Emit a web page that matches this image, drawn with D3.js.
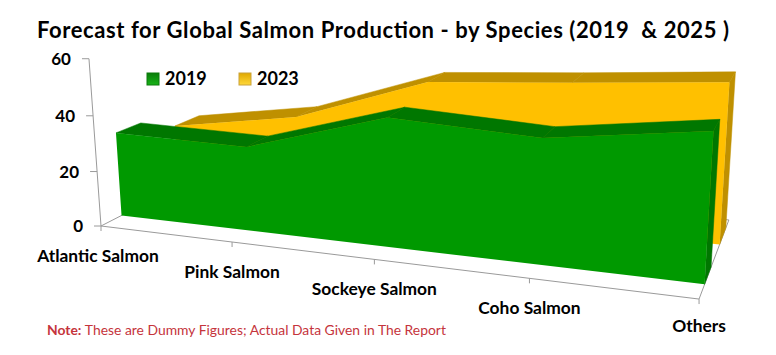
<!DOCTYPE html>
<html lang="en">
<head>
<meta charset="UTF-8">
<title>Forecast for Global Salmon Production</title>
<script src="https://d3js.org/d3.v7.min.js"></script>
<style>
  html, body { margin: 0; background: #fff; }
  svg { display: block; }
  text { font-family: Lato, "Open Sans", sans-serif; white-space: pre; }
</style>
</head>
<body>
<svg id="chart" width="776" height="355"></svg>
<script>
const categories = ["Atlantic Salmon", "Pink Salmon", "Sockeye Salmon", "Coho Salmon", "Others"];
const values2019 = [30.9, 30.2, 44.6, 42, 48.5];
const values2023 = [24.4, 32, 48.8, 52, 55.7];
const yTicks = [0, 20, 40, 60];
const legendNames = ["2019", "2023"];

const svg = d3.select("#chart");

const xPos = d3.scalePoint().domain(categories).range([0, 1]);
const yPos = d3.scaleLinear().domain([0, 60]).range([0, 1]);

// perspective camera fitted to the axis box: X along categories, Y up, Z into the page
function project(cat, value, z) {
  const X = xPos(cat), Y = yPos(value);
  const w = 1 - 0.158 * X - 0.0345 * Y + 0.17 * z;
  return [
    (101 + 487.6 * X - 15.1 * Y + 149 * z) / w,
    (226 + 25.8 * X - 169.3 * Y - 29.2 * z) / w
  ];
}

const first = categories[0], last = categories[categories.length - 1];
const poly = pts => "M" + pts.map(p => p.join(",")).join("L") + "Z";

// floor
const axisColor = "#9a9a9a";
function seg(a, b) {
  svg.append("line")
    .attr("x1", a[0]).attr("y1", a[1]).attr("x2", b[0]).attr("y2", b[1])
    .attr("stroke", axisColor).attr("stroke-width", 1);
}
seg(project(first, 0, 0), project(first, 0, 1));
seg(project(last, 0, 0), project(last, 0, 1));
seg(project(first, 0, 1), project(last, 0, 1));
seg(project(first, 0, 0), project(last, 0, 0));
seg(project(first, 0, 0), project(first, 60, 0));

categories.forEach(c => {
  const p = project(c, 0, 0);
  seg(p, [p[0], p[1] + 5]);
  svg.append("text")
    .attr("x", p[0] - (c === first ? 3 : 0)).attr("y", p[1] + (c === last ? 33 : 36))
    .attr("text-anchor", "middle")
    .attr("font-size", 17.4).attr("font-weight", 700).attr("fill", "#000")
    .text(c);
});

yTicks.forEach(t => {
  const p = project(first, t, 0);
  seg(p, [p[0] - 7, p[1]]);
  svg.append("text")
    .attr("x", p[0] - 18).attr("y", p[1] + 6)
    .attr("text-anchor", "end")
    .attr("font-size", 17).attr("font-weight", 700).attr("fill", "#000")
    .text(t);
});

// one slab of the 3D area
function drawSlab(values, z0, z1, face, dark) {
  const g = svg.append("g");
  for (let i = 0; i < categories.length - 1; i++) {
    const a = categories[i], b = categories[i + 1];
    g.append("path")
      .attr("d", poly([project(a, values[i], z0), project(b, values[i + 1], z0),
                       project(b, values[i + 1], z1), project(a, values[i], z1)]))
      .attr("fill", dark).attr("stroke", dark).attr("stroke-width", 0.5);
  }
  const end = values[values.length - 1];
  g.append("path")
    .attr("d", poly([project(last, end, z0), project(last, end, z1),
                     project(last, 0, z1), project(last, 0, z0)]))
    .attr("fill", dark).attr("stroke", dark).attr("stroke-width", 0.5);

  const front = categories.map((c, i) => project(c, values[i], z0));
  front.push(project(last, 0, z0), project(first, 0, z0));
  g.append("path").attr("d", poly(front)).attr("fill", face);
}

drawSlab(values2023, 0.65, 0.88, "#ffc000", "#bf9000");
drawSlab(values2019, 0.16, 0.36, "#009900", "#007700");

// legend
const defs = svg.append("defs");
[["gGreen", "#0a7d0a", "#17b317"], ["gYellow", "#e0a800", "#ffd83a"]].forEach(d => {
  const lg = defs.append("linearGradient").attr("id", d[0]).attr("x1", 0).attr("y1", 0).attr("x2", 0).attr("y2", 1);
  lg.append("stop").attr("offset", "0%").attr("stop-color", d[1]);
  lg.append("stop").attr("offset", "100%").attr("stop-color", d[2]);
});
legendNames.forEach((name, i) => {
  const x = d3.scaleOrdinal().domain(legendNames).range([147, 239])(name);
  svg.append("rect").attr("x", x).attr("y", 73).attr("width", 12).attr("height", 12)
    .attr("fill", i ? "url(#gYellow)" : "url(#gGreen)")
    .attr("stroke", i ? "#c9a23a" : "#0d7a0d").attr("stroke-width", 1);
  svg.append("text").attr("x", x + 18).attr("y", 85)
    .attr("font-size", 18).attr("font-weight", 700).attr("fill", "#000")
    .text(name);
});

// title and note
svg.append("text").attr("x", 37).attr("y", 38)
  .attr("font-size", 22).attr("font-weight", 700).attr("fill", "#000")
  .attr("textLength", 692).attr("lengthAdjust", "spacing")
  .text("Forecast for Global Salmon Production - by Species (2019  & 2025 )");

const note = svg.append("text").attr("x", 47).attr("y", 335)
  .attr("font-size", 13.9).attr("fill", "#c5343c");
note.append("tspan").attr("font-weight", 700).text("Note: ");
note.append("tspan").text("These are Dummy Figures; Actual Data Given in The Report");
</script>
</body>
</html>
